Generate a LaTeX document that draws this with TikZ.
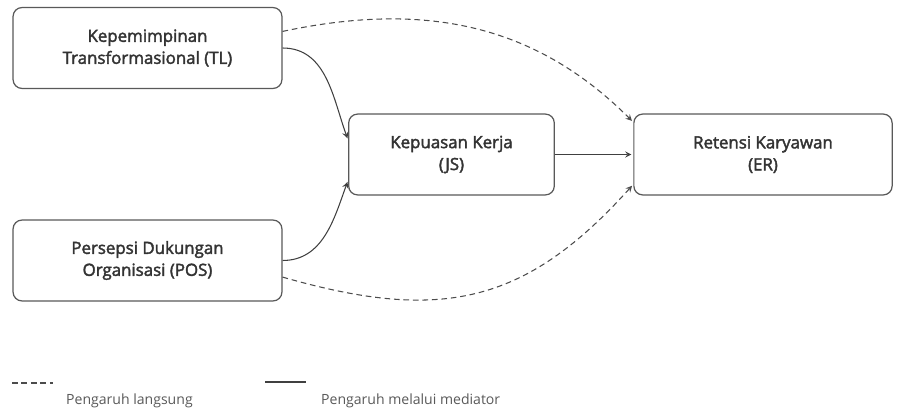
\documentclass[tikz,border=0pt]{standalone}
\usepackage{fontspec}
\setmainfont{Open Sans}
\newfontfamily\boxfont{Open Sans}[FakeBold=2.2]
\usepackage{tikz}
\usetikzlibrary{arrows,positioning}

\tikzset{
  var/.style={draw=black!65, line width=0.7pt, rounded corners=5pt, fill=white,
    minimum width=#1, minimum height=46pt, align=center, inner sep=2pt,
    font=\boxfont\fontsize{9.6}{12.5}\selectfont, text=black!80},
  langsung/.style={dashed, dash pattern=on 3.2pt off 2.2pt, draw=black!70, line width=0.6pt},
  mediator/.style={draw=black!75, line width=0.6pt},
  legtext/.style={font=\fontsize{8}{10}\selectfont, text=black!65, anchor=west}
}

\begin{document}
\begin{tikzpicture}[->,>=stealth,shorten >=1pt,x=0.02cm,y=-0.02cm]
  \useasboundingbox (0,0) rectangle (907,412);

  \node [var=153pt] (TL) at (147.5,48) {Kepemimpinan\\Transformasional (TL)};
  \node [var=153pt] (POS) at (147.5,260.5) {Persepsi Dukungan\\Organisasi (POS)};
  \node [var=117pt] (JS) at (451.5,154.5) {Kepuasan Kerja\\(JS)};
  \node [var=147pt] (ER) at (763,154.5) {Retensi Karyawan\\(ER)};

  \path[->] (TL) edge [mediator, out=0, in=110] (JS.172)
        (POS) edge [mediator, out=0, in=-110] (JS.194)
        (JS) edge [mediator] (ER);

  \path[->] (TL.7) edge [langsung, out=12, in=135] (ER.166)
        (POS.-7) edge [langsung, out=-16, in=-132, looseness=1.15] (ER.193);

  % legenda
  \coordinate (d1) at (12,383);
  \coordinate (d2) at (55,383);
  \coordinate (m1) at (265,382);
  \coordinate (m2) at (308,382);
  \draw[-, langsung] (d1) -- (d2);
  \draw[-, mediator] (m1) -- (m2);
  \node [legtext] (dtext) at (60,401) {Pengaruh langsung};
  \node [legtext] (mtext) at (315,401) {Pengaruh melalui mediator};
\end{tikzpicture}
\end{document}
